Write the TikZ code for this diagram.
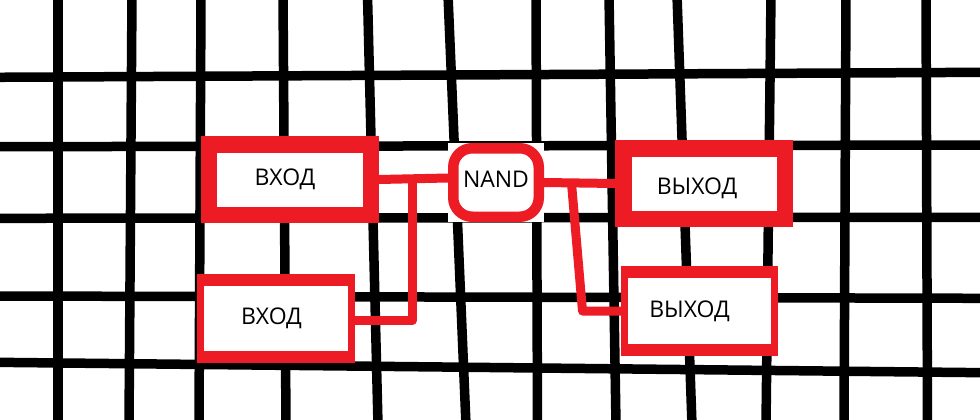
\documentclass[tikz,border=0pt]{standalone}
\usepackage{fontspec}
\setmainfont{Open Sans}
\usetikzlibrary{calc}
\definecolor{boxred}{RGB}{237,28,36}
\tikzset{
  gridline/.style={line width=9.5pt, black, line cap=butt},
  redbox/.style 2 args={fill=boxred, inner sep=0pt, outer sep=0pt,
    font=\fontsize{23}{27}\selectfont,
    path picture={\fill[white]
      ([xshift=#1,yshift=#2]path picture bounding box.south west) rectangle
      ([xshift=-#1,yshift=-#2]path picture bounding box.north east);}},
  gatebox/.style={fill=white, inner sep=0pt, outer sep=0pt,
    font=\fontsize{23}{27}\selectfont,
    path picture={\draw[boxred, line width=10.5pt, rounded corners=19pt]
      ([xshift=5.25pt,yshift=5.25pt]path picture bounding box.south west) rectangle
      ([xshift=-5.25pt,yshift=-5.25pt]path picture bounding box.north east);}},
  wire/.style={boxred, line width=9pt, line join=round, line cap=butt}
}
\begin{document}
\begin{tikzpicture}[x=1pt,y=-1pt]
\useasboundingbox (0,0) rectangle (980,420);
\fill[white] (0,0) rectangle (980,420);
% grid
\foreach \a/\b in {58/58,132/129,201/199,283/286,367.5/378,448/466,536/537.5,609/616,677/692,771/766,846/844,926/927.5}
  \draw[gridline] (\a,-5) -- (\b,425);
\foreach \a/\b in {77.3/72.3,146.7/145,218.3/217.3,296/298.3,362.3/372.7}
  \draw[gridline] (-5,\a) -- (985,\b);
% boxes
\node[redbox={16pt}{16.5pt}, minimum width=178pt, minimum height=87pt] (in1) at (290,179.5) {ВХОД\kern10pt};
\node[redbox={7pt}{12pt}, minimum width=158pt, minimum height=89pt] (in2) at (276,318.5) {ВХОД\kern9pt};
\node[gatebox, minimum width=96pt, minimum height=79pt] (nand) at (496,182.5) {\raisebox{-5.4pt}[0pt][0pt]{NAND}};
\node[redbox={16.5pt}{16.5pt}, minimum width=178pt, minimum height=87pt] (out1) at (704,183.5) {\raisebox{-11pt}[0pt][0pt]{ВЫХОД}\kern14pt};
\node[redbox={7pt}{12pt}, minimum width=157pt, minimum height=90pt] (out2) at (699.5,311) {ВЫХОД\kern20pt};
% wires
\coordinate (j1) at ($(in1.east)!0.49!([yshift=4.5pt]nand.west)$);
\draw[wire] (in1.east) -- ([yshift=4.5pt]nand.west);
\draw[wire] (j1) |- ([yshift=-1.5pt]in2.east);
\coordinate (j2) at ($(nand.east)!0.387!(out1.west)$);
\coordinate (c2) at ([xshift=-38.5pt]out2.west);
\draw[wire] (nand.east) -- (out1.west);
\draw[wire] (j2) -- (c2) -- (out2.west);
\end{tikzpicture}
\end{document}
